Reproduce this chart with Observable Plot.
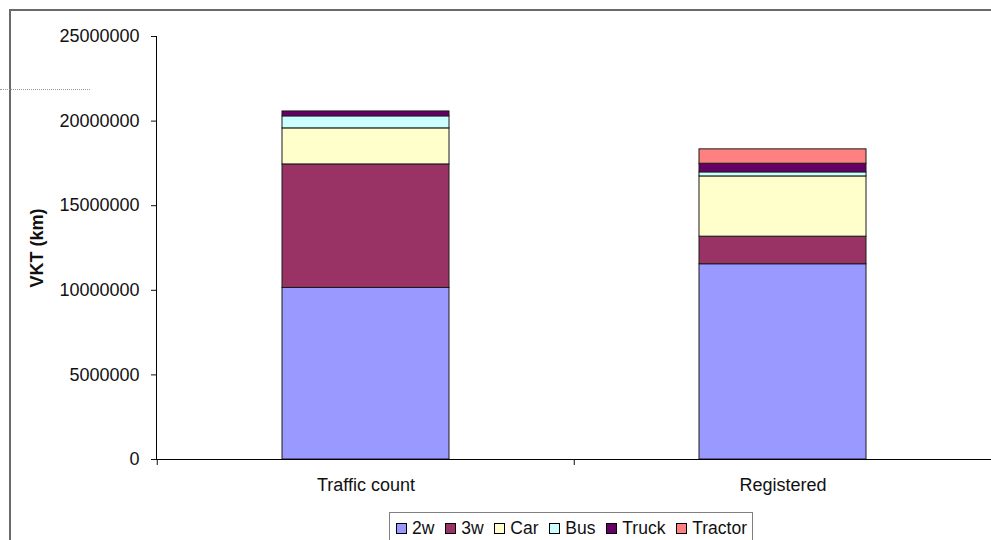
<!DOCTYPE html>
<html>
<head>
<meta charset="utf-8">
<script src="https://cdn.jsdelivr.net/npm/d3@7"></script>
<script src="https://cdn.jsdelivr.net/npm/@observablehq/plot@0.6"></script>
<style>
  html, body { margin: 0; padding: 0; background: #fff; }
  #chart { position: relative; width: 991px; height: 540px; overflow: hidden;
           font-family: "Liberation Sans", Arial, sans-serif; }
  #chart svg { position: absolute; left: 0; top: 0; }
  .outer-border { position: absolute; left: 9px; top: 9px; width: 1000px; height: 600px;
                  border-left: 2px solid #6a6a6a; border-top: 2px solid #6a6a6a; }
  .stray-rule { position: absolute; left: 0; top: 89px; width: 90px;
                border-top: 1px dotted #9a9a9a; }
  g[aria-label="y-axis label"] text { font-weight: bold; }
  .legend { position: absolute; left: 389px; top: 512px; width: 364px; height: 40px;
            border: 1.5px solid #808080; background: #fff; display: flex;
            align-items: flex-start; padding-left: 6px; padding-top: 2px; box-sizing: border-box;
            font-size: 17.5px; color: #111; }
  .legend .item { display: flex; align-items: center; margin-right: 10.8px; height: 26px; }
  .legend .sw { width: 9px; height: 9px; border: 1px solid #000; margin-right: 5px; }
</style>
</head>
<body>
<div id="chart">
  <div class="outer-border"></div>
  <div class="stray-rule"></div>
</div>
<script>
// Vehicle kilometres travelled, estimated two ways
const sources = ["Traffic count", "Registered"];
const vehicleTypes = ["2w", "3w", "Car", "Bus", "Truck", "Tractor"];
const typeColors = ["#9999ff", "#993366", "#ffffcc", "#ccffff", "#660066", "#ff8080"];

const trafficCountVKT = [10140000, 7300000, 2130000, 710000, 290000, 0];
const registeredVKT   = [11540000, 1630000, 3560000, 240000, 510000, 850000];

const yTicks = [0, 5000000, 10000000, 15000000, 20000000, 25000000];

const W = 991, H = 540;
const marginLeft = 156, marginRight = 0, marginTop = 36, marginBottom = 81;
const step = (W - marginLeft - marginRight) / sources.length;

const seriesBySource = [trafficCountVKT, registeredVKT];
const rows = [];
sources.forEach((s, i) => {
  vehicleTypes.forEach((t, j) => rows.push({source: s, type: t, value: seriesBySource[i][j]}));
});

const plot = Plot.plot({
  width: W,
  height: H,
  marginLeft, marginRight, marginTop, marginBottom,
  style: {fontFamily: "'Liberation Sans', Arial, sans-serif", fontSize: "18px", color: "#111", background: "transparent"},
  x: {domain: sources, paddingInner: 0.6, paddingOuter: 0.3, label: null},
  y: {domain: [0, 25000000], label: null},
  color: {domain: vehicleTypes, range: typeColors},
  marks: [
    Plot.barY(rows, {x: "source", y: "value", fill: "type", stroke: "#1a1a1a", strokeWidth: 1}),
    Plot.frame({anchor: "left", stroke: "#000"}),
    Plot.frame({anchor: "bottom", stroke: "#000"}),
    Plot.axisY({
      ticks: yTicks, tickSize: 5, tickPadding: 12, tickFormat: d => String(d),
      label: "VKT (km)", labelAnchor: "center", labelArrow: "none", labelOffset: 126
    }),
    Plot.axisX({tickSize: 0, tickPadding: 19, label: null}),
    // category dividers on the baseline
    Plot.axisX({tickSize: 6, tickFormat: () => "", dx: -step / 2, label: null})
  ]
});

const chart = document.getElementById("chart");
chart.appendChild(plot);

// legend below the plot
const legend = document.createElement("div");
legend.className = "legend";
vehicleTypes.forEach((t, i) => {
  const item = document.createElement("div");
  item.className = "item";
  const sw = document.createElement("div");
  sw.className = "sw";
  sw.style.background = typeColors[i];
  const label = document.createElement("span");
  label.textContent = t;
  item.appendChild(sw);
  item.appendChild(label);
  legend.appendChild(item);
});
chart.appendChild(legend);
</script>
</body>
</html>
